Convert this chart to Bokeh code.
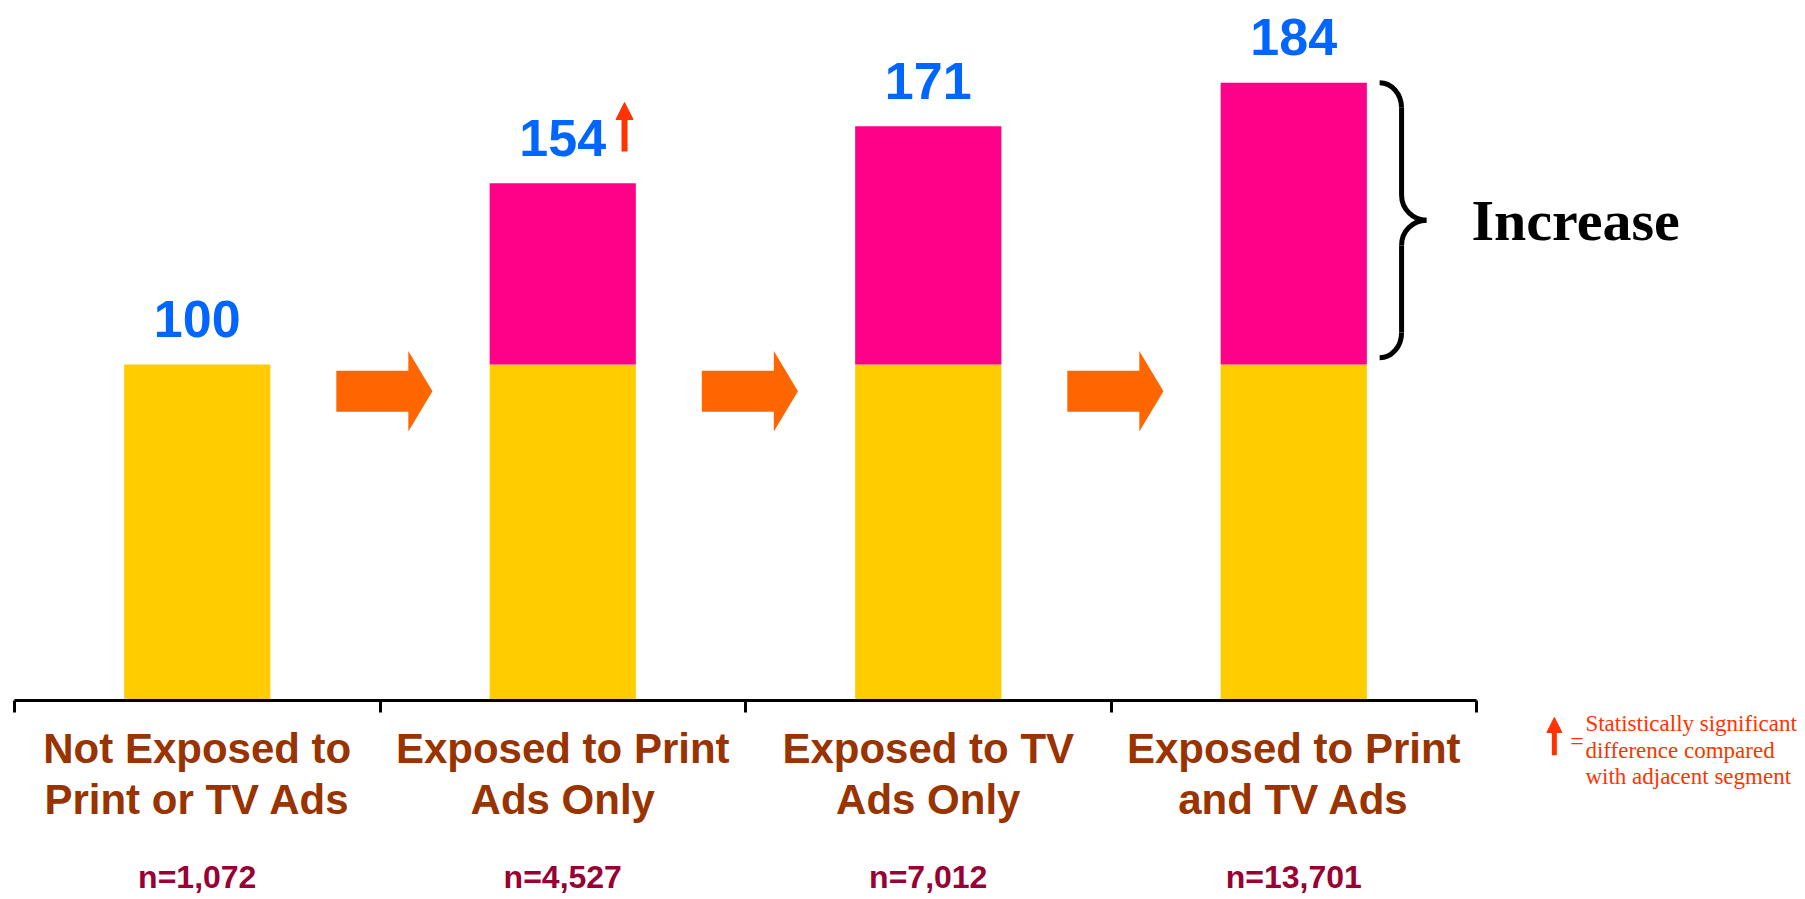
from bokeh.plotting import figure
from bokeh.models import (ColumnDataSource, FixedTicker, LinearAxis, Range1d,
                          Arrow, NormalHead)
from bokeh.core.properties import value
from bokeh.embed import file_html
from bokeh.resources import INLINE

# ---------------- data ----------------
categories = [
    "Not Exposed to\nPrint or TV Ads",
    "Exposed to Print\nAds Only",
    "Exposed to TV\nAds Only",
    "Exposed to Print\nand TV Ads",
]
sample_sizes = ["n=1,072", "n=4,527", "n=7,012", "n=13,701"]
index_values = [100, 154, 171, 184]
significant = [False, True, False, False]
base_value = 100
increase_label = "Increase"
note_text = "Statistically significant\ndifference compared\nwith adjacent segment"

# ---------------- layout constants ----------------
n = len(categories)
centers = [i + 0.5 for i in range(n)]
boundaries = list(range(n + 1))

W, H = 1805, 899
PX_X = 365.5      # pixels per category
PX_Y = 3.355      # pixels per index unit
X0_PX = 14        # screen x of the axis start
Y0_PX = 699.5     # screen y of the baseline
x_start = -X0_PX / PX_X
x_end = x_start + W / PX_X
y_end = Y0_PX / PX_Y
y_start = -(H - Y0_PX) / PX_Y

BRIGHT_YELLOW = "#FFCC00"
PINK = "#FF0088"
ORANGE = "#FF6600"
BLUE = "#0066FF"
BROWN = "#993300"
WINE = "#990033"
RED = "#FF3300"

p = figure(width=W, height=H,
           x_range=Range1d(x_start, x_end), y_range=Range1d(y_start, y_end),
           output_backend="svg", toolbar_location=None,
           x_axis_location=None, y_axis_location=None,
           min_border_left=0, min_border_right=0, min_border_top=0,
           min_border_bottom=0)
p.outline_line_color = None
p.background_fill_color = "white"
p.border_fill_color = "white"
p.grid.visible = False

src = ColumnDataSource(dict(
    x=centers,
    base=[min(base_value, v) for v in index_values],
    top=index_values,
    label=[str(v) for v in index_values],
    label_y=[v + 13.5 for v in index_values],
))

# stacked bars: base level + increase
p.vbar(x="x", bottom=0, top="base", width=0.4, source=src,
       fill_color=BRIGHT_YELLOW, line_color=None)
p.vbar(x="x", bottom="base", top="top", width=0.4, source=src,
       fill_color=PINK, line_color=None)

# value labels
p.text(x="x", y="label_y", text="label", source=src,
       text_font=value("Liberation Sans"), text_font_style="bold",
       text_font_size="52px", text_color=BLUE,
       text_align="center", text_baseline="alphabetic")

# significance arrows next to labels
for c, v, sig in zip(centers, index_values, significant):
    if sig:
        p.add_layout(Arrow(x_start=c + 0.169, y_start=v + 9.5,
                           x_end=c + 0.169, y_end=v + 24.1,
                           line_color=RED, line_width=6,
                           end=NormalHead(size=17, fill_color=RED,
                                          line_color=RED, line_width=1)))

# block arrows between segments
arrow_xs, arrow_ys = [], []
L, HL = 0.263, 0.066
cy, hb, hh = 92, 6.1, 12
for b in boundaries[1:-1]:
    cx = b + 0.012
    x0, x1, x2 = cx - L / 2, cx + L / 2 - HL, cx + L / 2
    arrow_xs.append([x0, x1, x1, x2, x1, x1, x0])
    arrow_ys.append([cy - hb, cy - hb, cy - hh, cy, cy + hh, cy + hb, cy + hb])
p.patches(arrow_xs, arrow_ys, fill_color=ORANGE, line_color=None)

# curly brace on the last bar's increase
last_c = centers[-1]
y1 = index_values[-1]
y0 = base_value + 2
ym = (y0 + y1) / 2
bx0, bxv, bxt = last_c + 0.235, last_c + 0.295, last_c + 0.363
ry = 7.5
k = 0.552
bz = dict(
    x0=[bx0, bxv, bxt, bxv],
    y0=[y1, ym + ry, ym, y0 + ry],
    x1=[bxv, bxt, bxv, bx0],
    y1=[y1 - ry, ym, ym - ry, y0],
    cx0=[bx0 + k * (bxv - bx0), bxv, bxt - k * (bxt - bxv), bxv],
    cy0=[y1, ym + ry - k * ry, ym, y0 + ry - k * ry],
    cx1=[bxv, bxt - k * (bxt - bxv), bxv, bx0 + k * (bxv - bx0)],
    cy1=[y1 - ry + k * ry, ym, ym - ry + k * ry, y0],
)
p.bezier(x0="x0", y0="y0", x1="x1", y1="y1", cx0="cx0", cy0="cy0",
         cx1="cx1", cy1="cy1", source=ColumnDataSource(bz),
         line_color="black", line_width=5)
p.segment(x0=[bxv, bxv], y0=[y1 - ry, ym - ry], x1=[bxv, bxv], y1=[ym + ry, y0 + ry],
          line_color="black", line_width=5)
p.text(x=[last_c + 0.486], y=[ym], text=[increase_label],
       text_font=value("Liberation Serif"), text_font_style="bold",
       text_font_size="58px", text_color="black",
       text_align="left", text_baseline="middle")

# axes at the baseline: category labels (ticks at boundaries) and sample sizes
ax1 = LinearAxis(
    ticker=FixedTicker(ticks=centers, minor_ticks=boundaries), bounds=(0, n),
    fixed_location=0,
    major_label_overrides={c: lab for c, lab in zip(centers, categories)},
    axis_line_color="black", axis_line_width=3,
    major_tick_line_color=None, major_tick_in=0, major_tick_out=0,
    minor_tick_line_color="black", minor_tick_line_width=3,
    minor_tick_in=0, minor_tick_out=12,
    major_label_standoff=13,
    major_label_text_font="Liberation Sans", major_label_text_font_style="bold",
    major_label_text_font_size="42px", major_label_text_color=BROWN,
    major_label_text_line_height=1.09,
)
ax2 = LinearAxis(
    ticker=FixedTicker(ticks=centers), bounds=(0, n),
    fixed_location=0,
    major_label_overrides={c: s for c, s in zip(centers, sample_sizes)},
    axis_line_color=None, major_tick_line_color=None, minor_tick_line_color=None,
    major_tick_in=0, major_tick_out=0, minor_tick_in=0, minor_tick_out=0,
    major_label_standoff=159,
    major_label_text_font="Liberation Sans", major_label_text_font_style="bold",
    major_label_text_font_size="32px", major_label_text_color=WINE,
)
p.add_layout(ax1, "below")
p.add_layout(ax2, "below")

# significance note
note_x = n + 0.213
p.add_layout(Arrow(x_start=note_x, y_start=-16.5, x_end=note_x, y_end=-5.2,
                   line_color=RED, line_width=5,
                   end=NormalHead(size=15, fill_color=RED, line_color=RED, line_width=1)))
p.text(x=[note_x + 0.062], y=[-12.1], text=["="],
       text_font=value("Liberation Serif"), text_font_size="24px", text_color=RED,
       text_align="center", text_baseline="middle")
p.text(x=[note_x + 0.085], y=[-3.4], text=[note_text],
       text_font=value("Liberation Serif"), text_font_size="23px", text_color=RED,
       text_line_height=1.05, text_align="left", text_baseline="top")

open("out.html", "w").write(file_html(p, INLINE))
